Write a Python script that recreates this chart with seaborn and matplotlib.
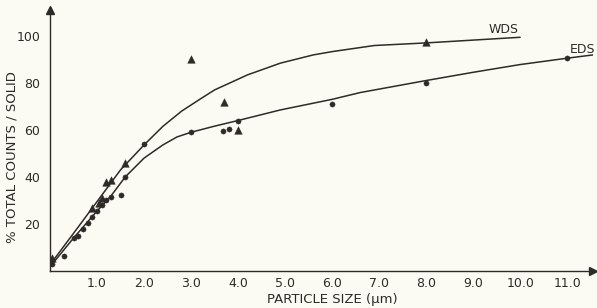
import matplotlib
matplotlib.use("Agg")
import matplotlib.pyplot as plt
import seaborn as sns
import pandas as pd

# WDS measured points (triangles)
wds_x = [0.05, 0.9, 1.05, 1.1, 1.2, 1.3, 1.6, 3.0, 3.7, 4.0, 8.0]
wds_y = [5.5, 27, 29, 31, 38, 38.5, 46, 90, 72, 60, 97.5]

# EDS measured points (dots)
eds_x = [0.05, 0.3, 0.5, 0.6, 0.7, 0.8, 0.9, 1.0, 1.1, 1.2, 1.3, 1.5, 1.6, 2.0,
         3.0, 3.68, 3.8, 4.0, 6.0, 8.0, 11.0]
eds_y = [3, 6.5, 14, 15, 18, 20.5, 23, 25.5, 28, 30, 31.5, 32.5, 40, 54,
         59, 59.7, 60.6, 64, 71, 80, 90.5]

# Hand-drawn curves
wds_curve_x = [0.05, 0.5, 1.0, 1.5, 2.0, 2.4, 2.8, 3.2, 3.5, 4.2, 4.9, 5.6, 6.0, 6.9, 8.0, 9.0, 10.0]
wds_curve_y = [4, 16, 29.5, 43, 53.6, 61.5, 68, 73.2, 77, 83.4, 88.4, 91.9, 93.3, 95.9, 97, 98.2, 99.4]

eds_curve_x = [0.05, 0.5, 1.0, 1.3, 1.6, 2.0, 2.4, 2.7, 3.0, 3.5, 4.0, 4.9, 6.0, 6.6, 8.0, 9.0, 10.0, 11.0, 11.55]
eds_curve_y = [3, 14, 25.5, 32, 40, 48, 53.6, 57, 59, 61.6, 64, 68.5, 73, 75.9, 81, 84.5, 87.8, 90.5, 91.9]

x_ticks = [1, 2, 3, 4, 5, 6, 7, 8, 9, 10, 11]
x_tick_labels = ["1.0", "2.0", "3.0", "4.0", "5.0", "6.0", "7.0", "8.0", "9.0", "10.0", "11.0"]
y_ticks = [20, 40, 60, 80, 100]
y_tick_labels = ["20", "40", "60", "80", "100"]

bg = "#fbfbf3"
ink = "#2e2a28"

sns.set_theme(style="white")
plt.rcParams["font.family"] = ["DejaVu Sans"]

fig = plt.figure(figsize=(5.97, 3.08), dpi=100, facecolor=bg)
ax = fig.add_axes([50 / 597, 1 - 271 / 308, 543 / 597, 261 / 308])
ax.set_facecolor(bg)

wds_pts = pd.DataFrame({"x": wds_x, "y": wds_y})
eds_pts = pd.DataFrame({"x": eds_x, "y": eds_y})
wds_line = pd.DataFrame({"x": wds_curve_x, "y": wds_curve_y})
eds_line = pd.DataFrame({"x": eds_curve_x, "y": eds_curve_y})

sns.lineplot(data=wds_line, x="x", y="y", ax=ax, color=ink, lw=1.1,
             estimator=None, sort=False)
sns.lineplot(data=eds_line, x="x", y="y", ax=ax, color=ink, lw=1.1,
             estimator=None, sort=False)
sns.scatterplot(data=wds_pts, x="x", y="y", ax=ax, marker="^", s=30,
                color=ink, edgecolor=ink, linewidth=0.3, zorder=3)
sns.scatterplot(data=eds_pts, x="x", y="y", ax=ax, marker="o", s=14,
                color=ink, edgecolor=ink, linewidth=0.3, zorder=3)

ax.set_xlim(0, 11.55)
ax.set_ylim(0, 111)

for s in ["top", "right"]:
    ax.spines[s].set_visible(False)
for s in ["left", "bottom"]:
    ax.spines[s].set_color(ink)
    ax.spines[s].set_linewidth(1.0)

# arrow heads on the axes
ax.plot(1, 0, ">", color=ink, markersize=6, transform=ax.transAxes, clip_on=False)
ax.plot(0, 1, "^", color=ink, markersize=6, transform=ax.transAxes, clip_on=False)

ax.set_xticks(x_ticks)
ax.set_xticklabels(x_tick_labels)
ax.set_yticks(y_ticks)
ax.set_yticklabels(y_tick_labels)
ax.tick_params(axis="both", direction="in", length=4, width=0.9, color=ink,
               labelcolor=ink, labelsize=9)
ax.tick_params(axis="x", pad=4)
ax.tick_params(axis="y", pad=7)
ax.grid(False)

ax.set_xlabel("PARTICLE SIZE (\u03bcm)", fontsize=9.5, color=ink)
ax.set_ylabel("% TOTAL COUNTS / SOLID", fontsize=9.5, color=ink)
ax.xaxis.label.set_va("center")
ax.yaxis.label.set_va("center")
ax.xaxis.set_label_coords(0.52, -0.11)
ax.yaxis.set_label_coords(-0.07, 0.437)

ax.text(9.64, 102.5, "WDS", fontsize=9, color=ink, ha="center", va="center")
ax.text(11.32, 94, "EDS", fontsize=9, color=ink, ha="center", va="center")

fig.savefig("out.png", dpi=100, facecolor=bg)
